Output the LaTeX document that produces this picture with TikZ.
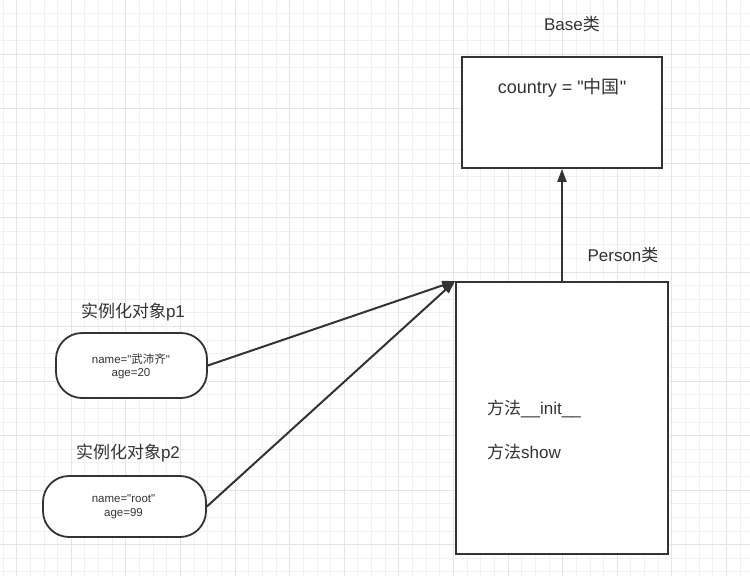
\documentclass[tikz,border=0pt]{standalone}
\usepackage{fontspec}
\setmainfont{Liberation Sans}[Ligatures=TeXOff]
\newfontfamily\cjk{Noto Sans CJK SC}
\usetikzlibrary{arrows.meta}
\definecolor{inkgray}{HTML}{333333}
\definecolor{minorline}{HTML}{F1F1F1}
\definecolor{majorline}{HTML}{E4E4E4}
\tikzset{
  minorgrid/.style={draw=minorline, line width=1pt},
  majorgrid/.style={draw=majorline, line width=1pt},
  label/.style={text=inkgray, inner sep=0pt, font=\fontsize{17}{20}\selectfont},
  smalltext/.style={text=inkgray, inner sep=0pt, align=center, font=\fontsize{11.5}{13.5}\selectfont},
  classbox/.style={draw=inkgray, fill=white, line width=1.8pt, inner sep=0pt},
  objbox/.style={draw=inkgray, fill=white, line width=1.8pt, inner sep=0pt, rounded corners=26pt},
  inherit/.style={draw=inkgray, line width=2pt, -{Triangle[length=13pt,width=9pt]}},
}
\begin{document}
\begin{tikzpicture}[x=1pt, y=-1pt]
			%%%%% START %%%%%
			
			\useasboundingbox[fill=white] (0, 0) rectangle (750, 576);
			
			% background grid
			\foreach \i in {0,...,54}
				\draw[minorgrid] ({3.05+13.65*\i}, 0) -- ({3.05+13.65*\i}, 576);
			\foreach \i in {0,...,42}
				\draw[minorgrid] (0, {-0.5+13.63*\i}) -- (750, {-0.5+13.63*\i});
			\foreach \i in {0,...,13}
				\draw[majorgrid] ({16.7+54.6*\i}, 0) -- ({16.7+54.6*\i}, 576);
			\foreach \i in {0,...,10}
				\draw[majorgrid] (0, {-0.5+54.5*\i}) -- (750, {-0.5+54.5*\i});
			
			% classes
			\node[label] (baselbl) at (572, 24) {Base{\cjk 类}};
			\node[classbox, minimum width=200pt, minimum height=111pt] (base) at (562, 112.5) {};
			\node[label, font=\fontsize{18}{20}\selectfont] (country) at (562, 88) {country = "{\cjk 中国}"};
			
			\node[label] (personlbl) at (623, 255.5) {Person{\cjk 类}};
			\node[classbox, minimum width=212pt, minimum height=272pt] (person) at (562, 418) {};
			\node[label, anchor=west] (init) at (487, 408.5) {{\cjk 方法}\_\_init\_\_};
			\node[label, anchor=west] (show) at (487, 451.5) {{\cjk 方法}show};
			
			% objects
			\node[label] (p1lbl) at (133, 312) {{\cjk 实例化对象}p1};
			\node[objbox, minimum width=151pt, minimum height=65pt] (p1) at (131.5, 365.5) {};
			\node[smalltext] (p1txt) at (131, 366.5) {name="{\cjk 武沛齐}"\\age=20};
			
			\node[label] (p2lbl) at (128, 453) {{\cjk 实例化对象}p2};
			\node[objbox, minimum width=163pt, minimum height=61pt] (p2) at (124.5, 506.5) {};
			\node[smalltext] (p2txt) at (123.5, 506.5) {name="root"\\age=99};
			
			% connectors
			\draw[inherit] (person.north) -- (base.south);
			\draw[inherit] (p1.east) -- (person.north west);
			\draw[inherit] (p2.east) -- (person.north west);
			
			%%%%% END %%%%%
\end{tikzpicture}
\end{document}
